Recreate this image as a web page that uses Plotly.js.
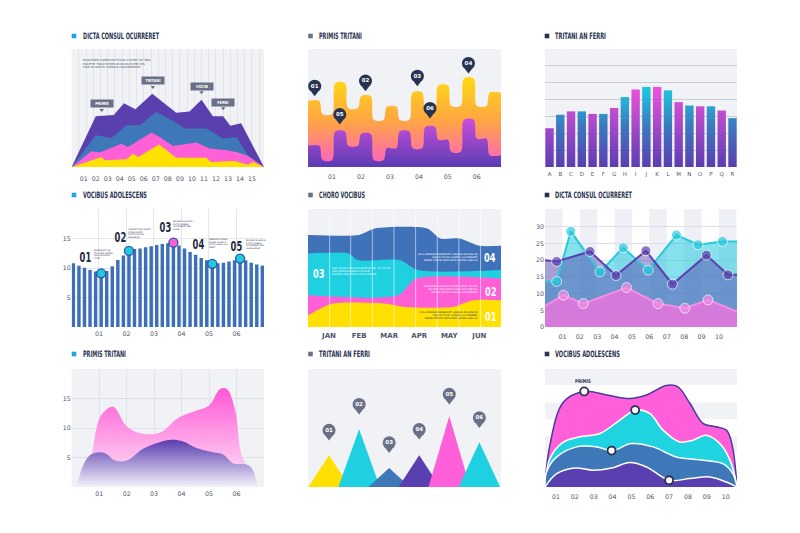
<!DOCTYPE html>
<html><head><meta charset="utf-8">
<script src="https://cdn.plot.ly/plotly-3.0.1.min.js"></script>
<style>html,body{margin:0;padding:0;background:#fff;}#chart{width:800px;height:533px;}</style>
</head><body><div id="chart"></div>
<script>
// ================= DATA =================
// Panel 1 - stacked mountains (values 0-100)
const p1Ticks = ['01','02','03','04','05','06','07','08','09','10','11','12','13','14','15'];
const p1PurpleX = [0,2.0,3.5,4.35,5.3,6.7,8.7,9.8,10.8,11.75,12.6,13.2,14.1,16];
const p1PurpleY = [0,43,44,54,49,62,46,47,57,43,43,35,37,0];
const p1BlueX = [0,2.0,3.3,4.55,5.66,7.04,8.57,9.4,11.2,12.6,13.7,14.67,16];
const p1BlueY = [0,26.9,24.6,35.4,35.4,46.7,38.2,32.6,32.6,24.1,25.5,9.9,0];
const p1PinkX = [0,1.64,2.33,4.13,4.69,5.8,6.63,7.32,8.43,10.37,11.48,12.87,13.7,14.67,16];
const p1PinkY = [0,13.3,12.2,19.8,17,24.1,29.2,25.5,17.8,20.7,15.6,14.2,12.7,9.3,0];
const p1YellowX = [0,2.47,2.75,4.55,5.1,5.52,7.27,8.7,11.2,11.6,13.56,14.67,15.08,16];
const p1YellowY = [0,8.5,5.7,6.5,11.3,8.5,19,7.9,7.9,4.2,5.1,2,4.2,0];
const p1Labels = ['PRIMIS','TRITANI','VOCIB','FERRI'];
const p1LabelX = [2.5,6.75,10.8,12.6];
const p1LabelY = [53.4,72.9,68.6,55];

// Panel 2 - rounded step areas (15 columns)
const p2Ticks = ['01','02','03','04','05','06'];
const p2Upper = [56,45,71,50,60,40,51,40,63,50,69,52,75,52,63];
const p2Lower = [18,6,30,18,28,6,16,30,16,34,23,13,40,24,10];
const p2PinLabels = ['01','05','02','03','06','04'];
const p2PinX = [0.52,2.47,4.47,8.5,9.48,12.47];
const p2PinY = [68.5,44.5,72.8,77,49.6,87.8];

// Panel 3 - gradient bars
const p3Cats = ['A','B','C','D','E','F','G','H','I','J','K','L','M','N','O','P','Q','R'];
const p3Vals = [2.3,3.1,3.3,3.3,3.15,3.15,3.5,4.15,4.6,4.75,4.75,4.55,3.85,3.65,3.6,3.6,3.35,2.9];

// Panel 4 - thin bars with highlights
const p4Ticks = ['01','02','03','04','05','06'];
const p4Vals = [10.8,10.4,10.05,9.65,9.4,9.1,9.5,10.3,11.35,12.1,12.9,13.2,13.3,13.5,13.7,13.9,14.05,14.2,14.3,13.8,13.3,12.7,12.25,11.7,11.3,10.7,10.8,10.9,11.1,11.3,11.6,11.3,10.9,10.6,10.4];
const p4MarkIdx = [6,11,19,26,31];
const p4MarkLabels = ['01','02','03','04','05'];

// Panel 5 - stacked smooth bands (months)
const p5Months = ['JAN','FEB','MAR','APR','MAY','JUN'];
const p5BlueX = [0.3,2.0,2.55,4.25,4.7,5.35,6.0,6.72];
const p5BlueY = [78,78,83.6,83.6,75,75,68.8,68.8];
const p5CyanX = [0.3,1.65,1.95,3.35,3.95,6.72];
const p5CyanY = [62.3,62.3,56.7,56.7,48.2,48.2];
const p5PinkX = [0.3,3.3,3.9,6.72];
const p5PinkY = [26.9,26.9,41.1,41.1];
const p5YellowX = [0.3,1.1,2.9,3.55,5.1,5.8,6.72];
const p5YellowY = [9.9,19.8,19.8,17,17,22.7,22.7];

// Panel 6 - overlapping line areas
const p6Ticks = ['01','02','03','04','05','06','07','08','09','10'];
const p6CyanX = [0,0.67,1.48,3.16,4.5,5.93,7.56,8.8,10.2,11.04];
const p6CyanY = [13.6,13.6,28.6,16.5,23.7,17,27.5,24.6,25.6,25.6];
const p6PurpleX = [0,0.67,2.59,4.08,5.8,7.33,9.28,10.52,11.04];
const p6PurpleY = [20,19.6,22.6,15.4,22.8,12.8,21.5,15.6,15.6];
const p6PinkX = [0,1.06,2.2,4.69,6.5,8.04,9.37,11.04];
const p6PinkY = [6.3,9.5,7,11.8,7,5.6,8.1,4.6];

// Panel 7 - gradient smooth areas
const p7Ticks = ['01','02','03','04','05','06'];
const p7PinkX = [0.45,0.75,1.05,1.5,2.0,2.5,3.2,3.9,4.5,5.0,5.4,5.65,5.95,6.15,6.35,6.6];
const p7PinkY = [0,6,12,13.6,10.3,9.1,9.2,11.8,12.9,13.8,16.6,16.6,13,6,3.6,0];
const p7PurpleX = [0.17,0.42,0.66,1.0,1.27,1.57,2.0,2.6,3.2,3.63,4.06,4.54,5.03,5.51,5.88,6.36,6.58,6.79,6.9];
const p7PurpleY = [0,3.7,5.4,5.9,5.6,4.5,4.5,6.5,7.6,8,7.7,6.6,6.0,5.5,4.0,3.8,3.0,0.3,0];

// Panel 8 - triangles
const p8Labels = ['01','02','03','04','05','06'];
const p8Heights = [27,49,16,27,60,38];
const p8PinY = [48,70,37.4,48.7,78.5,58.6];
const p8Colors = ['#ffe000','#1ed0e0','#3f78b8','#5a3fb0','#ff5fd8','#1ed0e0'];

// Panel 9 - stacked smooth streams
const p9Ticks = ['01','02','03','04','05','06','07','08','09','10'];
const p9PinkX = [0.42,0.65,1.4,2.5,3.7,4.9,5.8,6.85,7.45,8.1,8.8,9.5,10.05,10.35,10.6];
const p9PinkY = [0,33,72,81,78,75,78,86,85,71,54,51,48,35,0];
const p9CyanX = [0.42,0.68,1.39,2.27,3.33,4.39,5.23,5.97,6.68,7.56,8.27,8.97,9.77,10.3,10.6];
const p9CyanY = [0,24,38,42.5,45.3,56.7,65.2,62.3,48.2,38.2,39.7,43.9,35.4,19.8,0];
const p9BlueX = [0.42,0.5,1.04,2.1,3.15,4.0,5.0,6.15,7.38,8.8,9.85,10.38,10.6];
const p9BlueY = [0,12.7,25.5,34,34,30.9,36.8,34,25.5,22.7,19.8,11.3,0];
const p9PurpleX = [0.42,1.04,2.0,2.98,3.95,4.92,5.8,7.0,8.09,9.15,10.03,10.6];
const p9PurpleY = [0,11.3,16.1,14.2,16.1,20.7,17,5.7,7.1,8.5,4.2,0];
const p9MarkX = [2.5,5.2,3.95,7.0];
const p9MarkY = [81,65.2,30.9,5.7];

const titles = ['DICTA CONSUL OCURRERET','PRIMIS TRITANI','TRITANI AN FERRI',
                'VOCIBUS ADOLESCENS','CHORO VOCIBUS','DICTA CONSUL OCURRERET',
                'PRIMIS TRITANI','TRITANI AN FERRI','VOCIBUS ADOLESCENS'];

// ================= STYLE / LAYOUT =================
const FONT = "'DejaVu Sans','Roboto',sans-serif";
const NAVY = '#283251', PILL = '#6a7186', SKY = '#1ea5e3', BG = '#f1f2f6';
const squareColors = [SKY,PILL,NAVY,SKY,PILL,NAVY,SKY,PILL,NAVY];
const titleWidths = [76,43,51,64,46,77,43,51,65];
const W = 800, H = 533;
const colX = [[71.7,264],[308,501],[545,737]];
const rowY = [[49,167],[209,327],[369,487]];
function r(n){return n===1?'':String(n);}
function dom(n){const c=(n-1)%3, rr=Math.floor((n-1)/3);
  return {x:[colX[c][0]/W,colX[c][1]/W], y:[1-rowY[rr][1]/H,1-rowY[rr][0]/H]};}
const tickFont = {family:FONT,size:6.3,color:'#4d5469'};
function xa(n,extra){return Object.assign({domain:dom(n).x,anchor:'y'+r(n),showgrid:false,zeroline:false,showline:false,
  ticks:'outside',ticklen:3,tickcolor:'rgba(0,0,0,0)',tickfont:tickFont,fixedrange:true},extra);}
function ya(n,extra){return Object.assign({domain:dom(n).y,anchor:'x'+r(n),showgrid:false,zeroline:false,showline:false,
  showticklabels:false,ticks:'',tickfont:tickFont,fixedrange:true},extra);}
function area(n,x,y,color,extra){return Object.assign({type:'scatter',mode:'lines',x:x,y:y,xaxis:'x'+r(n),yaxis:'y'+r(n),
  fill:'tozeroy',fillcolor:color,line:{width:0,color:color},hoverinfo:'skip',showlegend:false},extra||{});}

const traces = [];
const shapes = [];
const annotations = [];
const squeeze = [];   // per-annotation horizontal condensing (emulates the condensed typeface)
function addAnn(a,sq){annotations.push(a);squeeze.push(sq||null);}

// backgrounds
[1,2,3,5,7,8].forEach(n=>shapes.push({type:'rect',xref:'x'+r(n)+' domain',yref:'y'+r(n)+' domain',x0:0,x1:1,y0:0,y1:1,
  fillcolor:BG,line:{width:0},layer:'below'}));

// titles
titles.forEach((t,i)=>{
  const c=i%3, rr=Math.floor(i/3);
  const sx=[74,310.5,547][c], tx=[81,317,553][c], ty=[36,195,354][rr];
  shapes.push({type:'rect',xref:'paper',yref:'paper',x0:(sx-2.3)/W,x1:(sx+2.3)/W,y0:1-(ty+2.3)/H,y1:1-(ty-2.3)/H,
    fillcolor:squareColors[i],line:{width:0}});
  addAnn({xref:'paper',yref:'paper',x:tx/W,y:1-ty/H,xanchor:'left',yanchor:'middle',showarrow:false,
    text:'<b>'+t+'</b>',font:{family:FONT,size:8.8,color:NAVY}},{w:titleWidths[i],o:'left'});
});

// ---- Panel 1
traces.push(area(1,p1PurpleX,p1PurpleY,'#5a3fae'));
traces.push(area(1,p1BlueX,p1BlueY,'#3f78b9'));
traces.push(area(1,p1PinkX,p1PinkY,'#ff5fd7'));
traces.push(area(1,p1YellowX,p1YellowY,'#ffe100'));
traces.push({type:'scatter',mode:'markers',x:p1LabelX,y:p1LabelY.map(v=>v-5.2),xaxis:'x',yaxis:'y',
  marker:{symbol:'triangle-down',size:4,color:PILL},hoverinfo:'skip',showlegend:false});
p1Labels.forEach((t,i)=>addAnn({xref:'x',yref:'y',x:p1LabelX[i],y:p1LabelY[i],showarrow:false,width:20,height:5,
  text:'<b>'+t+'</b>',font:{family:FONT,size:4.3,color:'#fff'},bgcolor:PILL,borderpad:1},{f:0.8,o:'center'}));
addAnn({xref:'x',yref:'y',x:0.75,y:87.7,xanchor:'left',yanchor:'middle',showarrow:false,align:'left',
  text:'EURIPIDIS COMPLECTITUR CUPIET AT SEA<br>FACETE TRACTATOS DUO DUIS MEI EA<br>HAS ID DICTA CONSUL OCURRERET',
  font:{family:FONT,size:2.8,color:'#4d5469'}},{w:68,o:'left'});

// ---- Panel 2
function blob(h){const x=[],y=[];h.forEach((v,i)=>{x.push(i===0?0:i+0.12, i===h.length-1?h.length:i+0.88);y.push(v,v);});return {x:x,y:y};}
const b2u = blob(p2Upper), b2l = blob(p2Lower);
traces.push(area(2,b2u.x,b2u.y,'#ffa347',{line:{width:0,shape:'spline',smoothing:0.9},
  fillgradient:{type:'vertical',start:0,stop:75,colorscale:[[0,'#ff5ec9'],[0.5,'#ffa347'],[1,'#ffd812']]}}));
traces.push(area(2,b2l.x,b2l.y,'#8a4ccf',{line:{width:0,shape:'spline',smoothing:0.9},
  fillgradient:{type:'vertical',start:0,stop:40,colorscale:[[0,'#5a3cb2'],[1,'#c94fdc']]}}));
traces.push({type:'scatter',mode:'markers',x:p2PinX,y:p2PinY.map(v=>v-6),xaxis:'x2',yaxis:'y2',
  marker:{symbol:'triangle-down',size:6,color:NAVY},hoverinfo:'skip',showlegend:false});
traces.push({type:'scatter',mode:'markers+text',x:p2PinX,y:p2PinY,xaxis:'x2',yaxis:'y2',text:p2PinLabels,
  textposition:'middle center',textfont:{family:FONT,size:5.5,color:'#fff',weight:'bold'},
  marker:{symbol:'circle',size:13,color:NAVY},hoverinfo:'skip',showlegend:false});

// ---- Panel 3
const pinkScale=[[0,'#5b3db2'],[0.5,'#a349c9'],[1,'#f252dc']];
const cyanScale=[[0,'#5b3db2'],[0.5,'#3c78c0'],[1,'#1ecbe1']];
p3Vals.forEach((v,i)=>traces.push({type:'scatter',mode:'lines',x:[i-0.39,i-0.39,i+0.39,i+0.39,i-0.39],y:[0,v,v,0,0],
  xaxis:'x3',yaxis:'y3',fill:'toself',fillcolor:'#8a4ccf',line:{width:0},
  fillgradient:{type:'vertical',start:0,stop:4.8,colorscale:(i%2?cyanScale:pinkScale)},hoverinfo:'skip',showlegend:false}));

// ---- Panel 4
const p4X = p4Vals.map((_,i)=>i+1);
traces.push({type:'bar',x:p4X,y:p4Vals,xaxis:'x4',yaxis:'y4',width:0.62,marker:{color:'#3d6fb8'},hoverinfo:'skip',showlegend:false});
traces.push({type:'scatter',mode:'markers',x:p4MarkIdx,y:p4MarkIdx.map(i=>p4Vals[i-1]),xaxis:'x4',yaxis:'y4',
  marker:{size:9,color:p4MarkIdx.map((_,k)=>k===2?'#ff5fd6':'#22c8de'),line:{color:'#2c55a8',width:1.3}},hoverinfo:'skip',showlegend:false});
const p4NumPos = [[3.23,11.9],[9.4,15.3],[17.5,16.9],[23.6,14.1],[30.3,13.7]];
const p4TextPos = [[4.4,12.3,19],[10.5,15.8,23],[18.6,17.2,20],[25.05,14.2,19],[31.7,13.9,20]];
const p4Texts = ['NEQUE ERUDITI NE<br>PRO AN EOS VERTERE<br>DUIS CONGUE PER<br>TATION',
  'COMPLECTITUR CUPIET<br>AT SEA FACETE<br>TRACTATOS DUO<br>DUIS MEI EA',
  'MOUNE AN HAS ID<br>DICTA CONSUL<br>OCURRERET SEA<br>ILLUM',
  'DESERUNT GRAECE<br>MOUNE AN HAS ID<br>DICTA CONSUL OCU<br>RERET',
  'MOUNE AN HAS ID<br>DICTA CONSUL<br>OCURRERET SEA<br>ILLUM LUDUS'];
p4NumPos.forEach((p,k)=>{
  addAnn({xref:'x4',yref:'y4',x:p[0],y:p[1],showarrow:false,text:'<b>'+p4MarkLabels[k]+'</b>',
    font:{family:FONT,size:13.5,color:'#1f2a44'}},{f:0.62,o:'center'});
  const tp=p4TextPos[k];
  addAnn({xref:'x4',yref:'y4',x:tp[0],y:tp[1],xanchor:'left',yanchor:'middle',align:'left',showarrow:false,
    text:p4Texts[k],font:{family:FONT,size:2.1,color:'#1f2a44'}},{w:tp[2],o:'left'});
});

// ---- Panel 5
const spl = {width:0,shape:'spline',smoothing:0.7};
traces.push(area(5,p5BlueX,p5BlueY,'#3f72b8',{line:spl}));
traces.push(area(5,p5CyanX,p5CyanY,'#1fd0e0',{line:spl}));
traces.push(area(5,p5PinkX,p5PinkY,'#ff5fd6',{line:spl}));
traces.push(area(5,p5YellowX,p5YellowY,'#ffe000',{line:spl}));
[1.02,1.72,2.44,3.16,3.88,4.6,5.32,6.04].forEach(x=>shapes.push({type:'line',xref:'x5',yref:'y5 domain',x0:x,x1:x,y0:0,y1:1,
  line:{color:'rgba(255,255,255,0.55)',width:1},layer:'above'}));
const p5Nums = [['03',0.66,45.3,'#fff'],['04',6.36,58.6,'#fff'],['02',6.36,30.3,'#fff'],['01',6.36,9.1,'#fff']];
p5Nums.forEach(q=>addAnn({xref:'x5',yref:'y5',x:q[1],y:q[2],showarrow:false,text:'<b>'+q[0]+'</b>',
  font:{family:FONT,size:12.5,color:q[3]}},{f:0.66,o:'center'}));
const p5Txt = [
  [1.02,46.2,'left','SEA ILLUM LUDUS NOSTRUD NE, ID VOLUP<br>TAN PASSUM MEDIS TATION<br>FACETE TRACTATOS DUO MEI EA','#fff',59],
  [6.02,58.9,'right','DUO APERIAM DESERUNT GRAECE MOUNE AN<br>HAS ID DICTA CONSUL OCURRERET<br>PERSE TATIUM ANTIOPAM LATINE UAECOS','#fff',60],
  [6.02,31.7,'right','EURIPIDIS COMPLECTITUR CUPIET AT SEA<br>FACETE TRACTATOS DUO DUIS MEI EA<br>HAS ID DICTA CONSUL OCURRERET','#fff',55],
  [6.02,9.1,'right','DUO APERIAM DESERUNT GRAECE MOUNE AN<br>HAS ID DICTA CONSUL OCURRERET<br>PERSE TATIUM ANTIOPAM LATINE UAECOS','#2a3350',59]];
p5Txt.forEach(q=>addAnn({xref:'x5',yref:'y5',x:q[0],y:q[1],xanchor:q[2],yanchor:'middle',align:q[2],showarrow:false,
  text:q[3],font:{family:FONT,size:2.5,color:q[4]}},{w:q[5],o:q[2]}));

// ---- Panel 6
for(let k=0;k<11;k+=2) shapes.push({type:'rect',xref:'x6',yref:'y6 domain',x0:k,x1:Math.min(k+1,11.04),y0:0,y1:1,
  fillcolor:'#eef0f5',line:{width:0},layer:'below'});
traces.push(area(6,p6CyanX,p6CyanY,'rgba(34,200,221,0.55)'));
traces.push(area(6,p6PurpleX,p6PurpleY,'rgba(80,60,170,0.45)'));
traces.push(area(6,p6PinkX,p6PinkY,'rgba(222,118,220,0.92)'));
function msize(x,s){return x.map((_,i)=>(i===0||i===x.length-1)?0:s);}
[[p6CyanX,p6CyanY,'#27c9de'],[p6PurpleX,p6PurpleY,'#5a3fae'],[p6PinkX,p6PinkY,'#f48ee6']].forEach(s=>
  traces.push({type:'scatter',mode:'lines+markers',x:s[0],y:s[1],xaxis:'x6',yaxis:'y6',line:{color:s[2],width:2},
    marker:{color:s[2],size:msize(s[0],10)},hoverinfo:'skip',showlegend:false}));

// ---- Panel 7
traces.push(area(7,p7PinkX,p7PinkY,'#ff7ddf',{line:{width:0,shape:'spline',smoothing:1},
  fillgradient:{type:'vertical',start:0,stop:17,colorscale:[[0,'#fdeaf8'],[1,'#ff55d5']]}}));
traces.push(area(7,p7PurpleX,p7PurpleY,'#8a74cc',{line:{width:0,shape:'spline',smoothing:1},
  fillgradient:{type:'vertical',start:0,stop:8,colorscale:[[0,'#f4f2fb'],[1,'#5a3cae']]}}));

// ---- Panel 8
p8Heights.forEach((h,i)=>traces.push({type:'scatter',mode:'lines',x:[i-0.69,i,i+0.69,i-0.69],y:[0,h,0,0],xaxis:'x8',yaxis:'y8',
  fill:'toself',fillcolor:p8Colors[i],line:{width:0},hoverinfo:'skip',showlegend:false}));
const p8X = p8Heights.map((_,i)=>i);
traces.push({type:'scatter',mode:'markers',x:p8X,y:p8PinY.map(v=>v-6),xaxis:'x8',yaxis:'y8',
  marker:{symbol:'triangle-down',size:6,color:PILL},hoverinfo:'skip',showlegend:false});
traces.push({type:'scatter',mode:'markers+text',x:p8X,y:p8PinY,xaxis:'x8',yaxis:'y8',text:p8Labels,textposition:'middle center',
  textfont:{family:FONT,size:5.5,color:'#fff',weight:'bold'},marker:{size:13,color:PILL},hoverinfo:'skip',showlegend:false});

// ---- Panel 9
[[86.4,100],[57.5,71.7],[29.2,43.3]].forEach(b=>shapes.push({type:'rect',xref:'x9 domain',yref:'y9',x0:0,x1:1,y0:b[0],y1:b[1],
  fillcolor:BG,line:{width:0},layer:'below'}));
const spl9 = {shape:'spline',smoothing:1,color:'#fff',width:1.5};
traces.push(area(9,p9PinkX,p9PinkY,'#ff5fd8',{line:{shape:'spline',smoothing:1,color:'#4a3aa0',width:1.5}}));
traces.push(area(9,p9CyanX,p9CyanY,'#1fd3e0',{line:spl9}));
traces.push(area(9,p9BlueX,p9BlueY,'#3e78b8',{line:spl9}));
traces.push(area(9,p9PurpleX,p9PurpleY,'#5a3fb0',{line:spl9}));
traces.push({type:'scatter',mode:'markers',x:p9MarkX,y:p9MarkY,xaxis:'x9',yaxis:'y9',
  marker:{size:8,color:'#fff',line:{color:NAVY,width:1.8}},hoverinfo:'skip',showlegend:false});
addAnn({xref:'x9',yref:'y9',x:2.45,y:90,showarrow:false,text:'<b>PRIMIS</b>',font:{family:FONT,size:5,color:NAVY}},{f:0.8,o:'center'});

// ================= AXES =================
const layout = {
  width:W,height:H,margin:{l:0,r:0,t:0,b:0},paper_bgcolor:'#fff',plot_bgcolor:'rgba(0,0,0,0)',showlegend:false,
  shapes:shapes,annotations:annotations,barmode:'overlay',
  xaxis: xa(1,{range:[0,16],tickvals:p1Ticks.map((_,i)=>i+1),ticktext:p1Ticks,ticklen:5,
     minor:{tickmode:'linear',tick0:0,dtick:0.6,showgrid:true,gridcolor:'#e2e4eb',gridwidth:1,ticklen:0}}),
  yaxis: ya(1,{range:[0,100]}),
  xaxis2: xa(2,{range:[0,15],tickvals:p2Ticks.map((_,i)=>1.87+2.25*i),ticktext:p2Ticks,ticklen:3}),
  yaxis2: ya(2,{range:[0,100]}),
  xaxis3: xa(3,{range:[-0.42,17.42],tickvals:p3Cats.map((_,i)=>i),ticktext:p3Cats,ticklen:1,tickfont:{family:FONT,size:5.5,color:'#4d5469'}}),
  yaxis3: ya(3,{range:[0,7],showgrid:true,gridcolor:'#c9ccd6',gridwidth:1,dtick:1}),
  xaxis4: xa(4,{range:[0.7,35.3],tickvals:p4Ticks.map((_,i)=>5.6+4.95*i),ticktext:p4Ticks,ticklen:0,showgrid:true,gridcolor:'#e3e6ee'}),
  yaxis4: ya(4,{range:[0,20],showgrid:true,gridcolor:'#e3e6ee',tickvals:[5,10,15,20],ticktext:['5','10','15',''],showticklabels:true}),
  xaxis5: xa(5,{range:[0.3,6.72],tickvals:p5Months.map((_,i)=>i+1),ticktext:p5Months,ticklen:2,
     tickfont:{family:FONT,size:7,color:'#4d5469',weight:'bold'}}),
  yaxis5: ya(5,{range:[0,100]}),
  xaxis6: xa(6,{range:[0,11.04],tickvals:p6Ticks.map((_,i)=>i+1),ticktext:p6Ticks,ticklen:3}),
  yaxis6: ya(6,{range:[0,35.3],showgrid:true,gridcolor:'#dcdfe7',tickvals:[0,5,10,15,20,25,30],showticklabels:true}),
  xaxis7: xa(7,{range:[0,7],tickvals:p7Ticks.map((_,i)=>i+1),ticktext:p7Ticks,ticklen:0,showgrid:true,gridcolor:'#dfe2ea'}),
  yaxis7: ya(7,{range:[0,20],showgrid:true,gridcolor:'#dfe2ea',tickvals:[5,10,15,20],ticktext:['5','10','15',''],showticklabels:true}),
  xaxis8: xa(8,{range:[-0.7,5.72],showticklabels:false,ticks:''}),
  yaxis8: ya(8,{range:[0,100]}),
  xaxis9: xa(9,{range:[0.42,10.6],tickvals:p9Ticks.map((_,i)=>i+1),ticktext:p9Ticks,ticklen:3}),
  yaxis9: ya(9,{range:[0,100]})
};
Plotly.newPlot('chart',traces,layout,{staticPlot:true,displayModeBar:false}).then(()=>{
  document.querySelectorAll('g.annotation').forEach(g=>{
    const idx = +g.getAttribute('data-index');
    const sq = squeeze[idx]; if(!sq) return;
    const t = g.querySelector('text.annotation-text'); if(!t) return;
    let f = sq.f;
    if(sq.w){ const bw = t.getBBox().width; f = bw>0 ? sq.w/bw : 1; }
    t.style.transformBox = 'fill-box';
    t.style.transformOrigin = sq.o+' center';
    t.style.transform = 'scaleX('+f.toFixed(3)+')';
  });
});
</script></body></html>
